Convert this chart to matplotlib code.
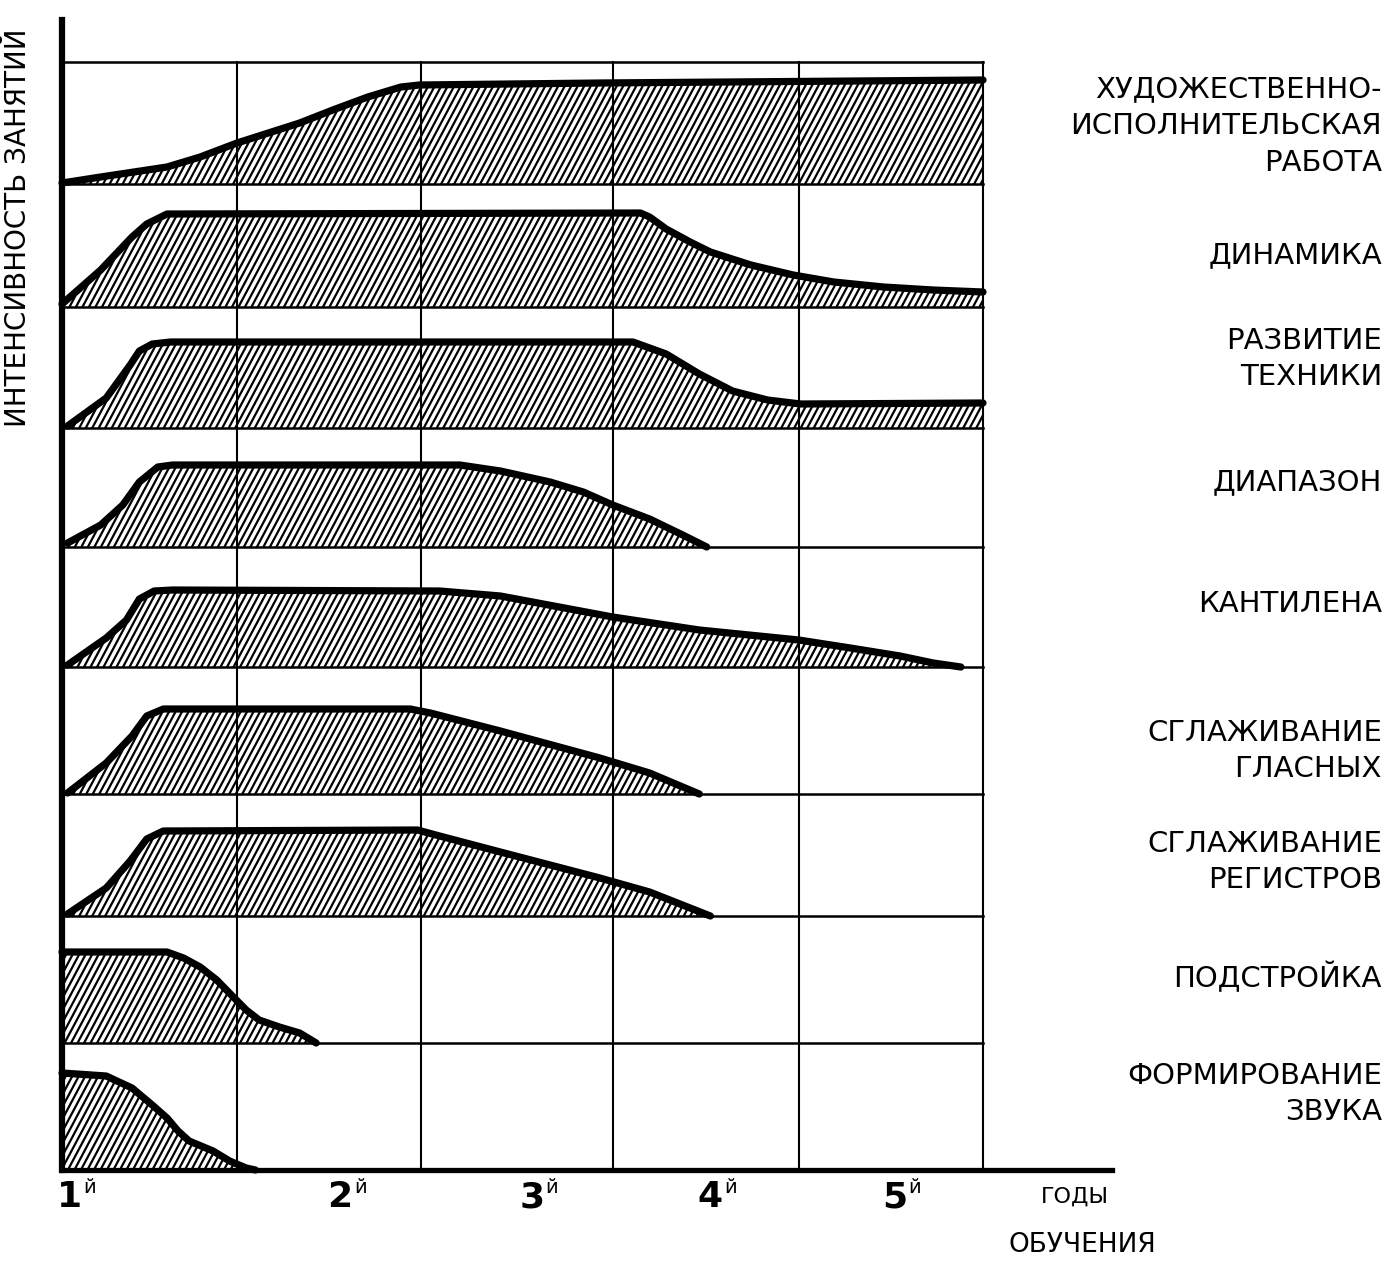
import numpy as np
import matplotlib
matplotlib.use('Agg')
import matplotlib.pyplot as plt
from matplotlib.patches import Polygon
from matplotlib.collections import LineCollection

plt.rcParams['font.family'] = ['DejaVu Sans']

# --- data ---
# x in years of study (0 = start), heights in arbitrary intensity units above each row's base
row_names = ['ХУДОЖЕСТВЕННО-\nИСПОЛНИТЕЛЬСКАЯ\nРАБОТА', 'ДИНАМИКА', 'РАЗВИТИЕ\nТЕХНИКИ',
             'ДИАПАЗОН', 'КАНТИЛЕНА', 'СГЛАЖИВАНИЕ\nГЛАСНЫХ', 'СГЛАЖИВАНИЕ\nРЕГИСТРОВ',
             'ПОДСТРОЙКА', 'ФОРМИРОВАНИЕ\nЗВУКА']
row_base = [986, 863, 742, 623, 503, 376, 254, 127, 0]
row_top = 1108
label_y = [1044, 915, 811, 688, 566, 419, 308, 192, 76]

x_art = [0, 0.21, 0.57, 0.75, 0.95, 1.29, 1.47, 1.66, 1.84, 1.94, 2.92, 5.0]
h_art = [1, 7, 17, 27, 41, 61, 74, 87, 97, 99, 101, 104]

x_dyn = [0, 0.21, 0.38, 0.46, 0.57, 3.14, 3.19, 3.28, 3.41, 3.52, 3.74, 3.97, 4.19, 4.46, 4.73, 5.0]
h_dyn = [3, 37, 70, 83, 93, 94, 90, 78, 65, 55, 42, 32, 25, 20, 17, 15]

x_tech = [0.03, 0.24, 0.37, 0.42, 0.49, 0.59, 3.10, 3.28, 3.46, 3.64, 3.83, 4.01, 5.0]
h_tech = [2, 30, 63, 77, 84, 86, 86, 74, 54, 37, 28, 24, 25]

x_range = [0.03, 0.21, 0.33, 0.42, 0.52, 0.60, 2.16, 2.38, 2.65, 2.83, 2.99, 3.19, 3.37, 3.50]
h_range = [4, 22, 42, 65, 80, 82, 82, 76, 65, 55, 42, 28, 12, 0]

x_cant = [0.03, 0.24, 0.35, 0.42, 0.50, 0.60, 2.05, 2.38, 2.99, 3.46, 4.0, 4.28, 4.55, 4.73, 4.88]
h_cant = [2, 29, 47, 68, 76, 77, 76, 71, 50, 37, 27, 19, 11, 4, 0]

x_vow = [0.03, 0.24, 0.38, 0.46, 0.55, 1.89, 2.0, 2.38, 2.92, 3.19, 3.46]
h_vow = [1, 31, 58, 78, 85, 85, 81, 63, 36, 21, 0]

x_reg = [0.03, 0.24, 0.37, 0.46, 0.55, 1.93, 2.05, 2.38, 2.92, 3.19, 3.52]
h_reg = [2, 28, 55, 77, 85, 86, 80, 64, 38, 24, 0]

x_tune = [0, 0.57, 0.66, 0.75, 0.84, 0.93, 1.00, 1.07, 1.18, 1.29, 1.38]
h_tune = [91, 91, 85, 76, 63, 46, 33, 23, 16, 10, 0]

x_tone = [0, 0.24, 0.38, 0.49, 0.57, 0.63, 0.69, 0.82, 0.91, 1.0, 1.05]
h_tone = [97, 94, 82, 65, 52, 39, 29, 19, 9, 2, 0]

profiles = [(x_art, h_art), (x_dyn, h_dyn), (x_tech, h_tech), (x_range, h_range),
            (x_cant, h_cant), (x_vow, h_vow), (x_reg, h_reg), (x_tune, h_tune),
            (x_tone, h_tone)]

grid_years = [0.95, 1.95, 2.99, 4.0, 5.0]
year_labels = ['1', '2', '3', '4', '5']
year_label_x = [0.04, 1.51, 2.55, 3.52, 4.52]

# --- layout ---
W, H = 1395, 1265
PX_YEAR = 184.2          # pixels per year
X0, Y0 = 62, 1170        # pixel position of the origin
XMAX, YMAX = 5.7, 1150

fig = plt.figure(figsize=(W / 100, H / 100), dpi=100)
ax = fig.add_axes([X0 / W, (H - Y0) / H, XMAX * PX_YEAR / W, YMAX / H])
ax.set_xlim(0, XMAX)
ax.set_ylim(0, YMAX)
ax.set_xticks([])
ax.set_yticks([])
for s in ['top', 'right']:
    ax.spines[s].set_visible(False)
ax.spines['left'].set_linewidth(4.5)
ax.spines['bottom'].set_linewidth(3.8)
ax.spines['left'].set_zorder(6)
ax.spines['bottom'].set_zorder(6)


def hatched(ax, xs, hs, base, spacing=6.5, angle=62):
    xs = np.asarray(xs, float)
    ys = base + np.asarray(hs, float)
    verts = [(xs[0], base)] + list(zip(xs, ys)) + [(xs[-1], base)]
    poly = Polygon(verts, closed=True, facecolor='white', edgecolor='none', zorder=2)
    ax.add_patch(poly)
    rise = ys.max() - base + 4
    run = rise / np.tan(np.radians(angle)) / PX_YEAR
    step = spacing / PX_YEAR
    starts = np.arange(xs[0] - run, xs[-1] + step, step)
    segs = [[(s, base - 2), (s + run, base - 2 + rise)] for s in starts]
    lc = LineCollection(segs, colors='black', linewidths=1.6, zorder=2)
    lc.set_clip_path(poly)
    ax.add_collection(lc)
    ax.plot(xs, ys, color='black', lw=5.2, solid_capstyle='round',
            solid_joinstyle='round', zorder=5, clip_on=False)


for (xs, hs), base in zip(profiles, row_base):
    hatched(ax, xs, hs, base)

# row boundaries and year grid
for yb in row_base[:-1] + [row_top]:
    ax.plot([0, grid_years[-1]], [yb, yb], color='black', lw=1.8, zorder=3)
for gx in grid_years:
    ax.plot([gx, gx], [0, row_top], color='black', lw=1.5, zorder=3)

# right side labels
for name, ly in zip(row_names, label_y):
    ax.text((1382 - X0) / PX_YEAR, ly, name, ha='right', va='center', multialignment='right',
            fontsize=21, linespacing=1.4, clip_on=False)

# year labels
for lab, lx in zip(year_labels, year_label_x):
    ax.text(lx, -27, lab, ha='center', va='center', fontsize=26, fontweight='bold', clip_on=False)
    ax.annotate('й', (lx, -27), xytext=(10, 7), textcoords='offset points',
                ha='left', va='center', fontsize=14, annotation_clip=False)

ax.text(5.50, -27, 'ГОДЫ', ha='center', va='center', fontsize=16, clip_on=False)
ax.text(5.54, -75, 'ОБУЧЕНИЯ', ha='center', va='center', fontsize=19, clip_on=False)

ax.text((18 - X0) / PX_YEAR, 942, 'ИНТЕНСИВНОСТЬ ЗАНЯТИЙ', rotation=90, ha='center',
        va='center', fontsize=20, clip_on=False)

fig.savefig('out.png', dpi=100, facecolor='white')
